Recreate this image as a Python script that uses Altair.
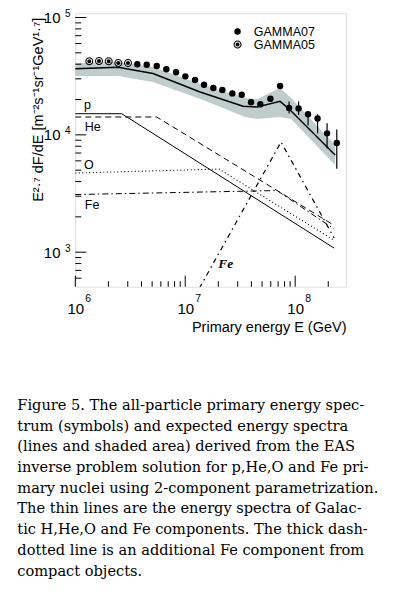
import altair as alt
import pandas as pd

# ---------------- data ----------------
g05_energy = [1.341e6, 1.643e6, 2.013e6, 2.462e6, 3.017e6]
g05_flux = [42350, 42600, 42350, 40960, 40960]

g07_energy = [3.665e6, 4.463e6, 5.505e6, 6.730e6, 8.247e6, 1.002e7, 1.228e7,
              1.483e7, 1.802e7, 2.176e7, 2.683e7, 3.267e7, 3.970e7, 4.825e7,
              5.950e7, 7.289e7, 8.801e7, 1.074e8, 1.310e8, 1.599e8, 1.951e8,
              2.391e8]
g07_flux = [39930, 39620, 38620, 36190, 34120, 31500, 29340,
            26750, 25070, 24100, 22550, 21990, 18940, 18200,
            20320, 26070, 16930, 16800, 14960, 13780, 10300,
            8520]

err_energy = [8.801e7, 1.074e8, 1.310e8, 1.599e8, 1.951e8, 2.391e8]
err_low = [15190, 14760, 12040, 10290, 7670, 5140]
err_high = [19240, 19240, 15850, 14950, 12530, 11130]

fit_energy = [1e6, 2.446e6, 5.093e6, 1.364e7, 3.357e7, 4.501e7, 7.289e7, 8.801e7, 2.308e8]
fit_flux = [36620, 37640, 33330, 23180, 17510, 17270, 19310, 16600, 6730]

band_energy = [1e6, 2.446e6, 5.093e6, 1.452e7, 3.501e7, 4.501e7, 7.289e7, 9.178e7, 2.308e8]
band_high = [40960, 41760, 37860, 26580, 20600, 20210, 25090, 20600, 8190]
band_low = [31730, 31730, 28200, 19810, 14190, 13640, 14190, 13640, 5530]

p_energy = [1e6, 2.644e6, 2.259e8]
p_flux = [15140, 15140, 1084]
he_energy = [1e6, 5.505e6, 2.259e8]
he_flux = [14190, 14190, 1693]
o_energy = [1e6, 2.030e7, 2.259e8]
o_flux = [4726, 5112, 1262]
fe_energy = [1e6, 6.845e7, 2.259e8]
fe_flux = [3099, 3352, 1574]
fex_energy = [1e7, 7.441e7, 2.259e8]
fex_flux = [300, 8688, 1320]

label_text = ["p", "He", "O", "Fe"]
label_energy = [1.2e6, 1.22e6, 1.2e6, 1.22e6]
label_flux = [16500, 10780, 5112, 2318]
fex_label = ["Fe"]
fex_label_energy = [2.001e7]
fex_label_flux = [732]

series_names = ["GAMMA07", "GAMMA05"]

x_major = [1e6, 1e7, 1e8]
x_exponent = ["6", "7", "8"]
x_minor = [2e6, 3e6, 4e6, 5e6, 6e6, 7e6, 8e6, 9e6,
           2e7, 3e7, 4e7, 5e7, 6e7, 7e7, 8e7, 9e7, 2e8]
y_major = [1e3, 1e4, 1e5]
y_exponent = ["3", "4", "5"]
y_minor = [6e2, 7e2, 8e2, 9e2, 2e3, 3e3, 4e3, 5e3, 6e3, 7e3, 8e3, 9e3,
           2e4, 3e4, 4e4, 5e4, 6e4, 7e4, 8e4, 9e4]

caption_lines = [
    "Figure 5.  The all-particle primary energy spec-",
    "trum (symbols) and expected energy spectra",
    "(lines and shaded area) derived from the EAS",
    "inverse problem solution for p,He,O and Fe pri-",
    "mary nuclei using 2-component parametrization.",
    "The thin lines are the energy spectra of Galac-",
    "tic H,He,O and Fe components. The thick dash-",
    "dotted line is an additional Fe component from",
    "compact objects.",
]

y_title = "E²·⁷ dF/dE  [m⁻²s⁻¹sr⁻¹GeV¹·⁷]"
x_title = "Primary energy E (GeV)"

# ---------------- chart ----------------
W, H = 270.7, 273.4
TOP = 5.3
SANS = "Liberation Sans"
SERIF = "DejaVu Serif"

xs = alt.Scale(type="log", domain=[1e6, 2.9e8], nice=False)
ys = alt.Scale(type="log", domain=[508, 1.086e5], nice=False)

xaxis = alt.Axis(values=x_major, labelExpr="'10'", ticks=False, tickSize=0,
                 domain=False, grid=False, labelFont=SANS, labelFontSize=15,
                 labelColor="black", labelAlign="center",
                 labelBaseline="alphabetic", labelPadding=26.7, labelFlush=False,
                 labelOverlap=False, title=x_title, titleFont=SANS, titleFontSize=14.5,
                 titleFontWeight="normal", titleColor="black", titleX=W, titleY=45,
                 titleAlign="right", titleBaseline="alphabetic", titleAngle=0)
yaxis = alt.Axis(values=y_major, labelExpr="'10'", ticks=False, tickSize=0,
                 domain=False, grid=False, labelFont=SANS, labelFontSize=15,
                 labelColor="black", labelPadding=15.3, labelBaseline="middle",
                 labelFlush=False, labelOverlap=False, title=y_title, titleFont=SANS,
                 titleFontSize=14.5, titleFontWeight="normal", titleColor="black",
                 titleX=-33, titleY=96, titleAngle=270, titleAlign="center",
                 titleBaseline="alphabetic")


def X(field="E"):
    return alt.X(field, type="quantitative", scale=xs, axis=xaxis)


def Y(field="F"):
    return alt.Y(field, type="quantitative", scale=ys, axis=yaxis)


band_df = pd.DataFrame({"E": band_energy, "F": band_high, "F2": band_low})
band = alt.Chart(band_df).mark_area(color="#bfcecc", opacity=1).encode(
    x=X(), y=Y(), y2="F2")

fit = alt.Chart(pd.DataFrame({"E": fit_energy, "F": fit_flux})).mark_line(
    color="black", strokeWidth=1.5).encode(x=X(), y=Y())


def thin(en, fl, dash, width=1.0, clip=False):
    kw = dict(color="black", strokeWidth=width, clip=clip)
    if dash:
        kw["strokeDash"] = dash
    return alt.Chart(pd.DataFrame({"E": en, "F": fl})).mark_line(**kw).encode(x=X(), y=Y())


p_line = thin(p_energy, p_flux, None, 1.0)
he_line = thin(he_energy, he_flux, [6, 4], 1.0)
o_line = thin(o_energy, o_flux, [1, 2.5], 1.1)
fe_line = thin(fe_energy, fe_flux, [6, 3, 1.5, 3], 1.0)
fex_line = thin(fex_energy, fex_flux, [5, 4, 1.5, 4], 1.2, clip=True)

xt_major = alt.Chart(pd.DataFrame({"E": x_major})).mark_rule(color="black", strokeWidth=1).encode(
    x=X(), y=alt.value(H), y2=alt.value(H - 11))
xt_minor = alt.Chart(pd.DataFrame({"E": x_minor})).mark_rule(color="black", strokeWidth=1).encode(
    x=X(), y=alt.value(H), y2=alt.value(H - 5.5))
yt_major = alt.Chart(pd.DataFrame({"F": y_major})).mark_rule(color="black", strokeWidth=1).encode(
    y=Y(), x=alt.value(0), x2=alt.value(11))
yt_minor = alt.Chart(pd.DataFrame({"F": y_minor})).mark_rule(color="black", strokeWidth=1).encode(
    y=Y(), x=alt.value(0), x2=alt.value(6))

x_exp = alt.Chart(pd.DataFrame({"E": x_major, "t": x_exponent})).mark_text(
    font=SANS, fontSize=10.5, color="black", align="left", baseline="middle", dx=10).encode(
    x=X(), y=alt.value(H + 12.3), text="t")
y_exp = alt.Chart(pd.DataFrame({"F": y_major, "t": y_exponent})).mark_text(
    font=SANS, fontSize=10, color="black", align="left", baseline="middle", dy=-3.5).encode(
    y=Y(), x=alt.value(-10.3), text="t")

err = alt.Chart(pd.DataFrame({"E": err_energy, "F": err_low, "F2": err_high})).mark_rule(
    color="black", strokeWidth=1.2).encode(x=X(), y=Y(), y2="F2")

# circled dot symbol: outer ring + centre dot (non-zero winding)
RING = ("M1.25,0A1.25,1.25,0,1,1,-1.25,0A1.25,1.25,0,1,1,1.25,0Z"
        "M0.92,0A0.92,0.92,0,1,0,-0.92,0A0.92,0.92,0,1,0,0.92,0Z"
        "M0.62,0A0.62,0.62,0,1,1,-0.62,0A0.62,0.62,0,1,1,0.62,0Z")

pts_df = pd.DataFrame({
    "E": g07_energy + g05_energy,
    "F": g07_flux + g05_flux,
    "s": [series_names[0]] * len(g07_energy) + [series_names[1]] * len(g05_energy),
})
pts = alt.Chart(pts_df).mark_point(filled=True, color="black", opacity=1, strokeWidth=0,
                                   size=41).encode(
    x=X(), y=Y(),
    shape=alt.Shape("s:N", scale=alt.Scale(domain=series_names, range=["circle", RING]),
                    legend=alt.Legend(title=None, orient="none", legendX=156, legendY=12,
                                      labelFont=SANS, labelFontSize=12.5, labelColor="black",
                                      symbolSize=41, symbolFillColor="black",
                                      symbolStrokeWidth=0, labelOffset=10, rowPadding=0,
                                      padding=0)),
)

labels = alt.Chart(pd.DataFrame({"E": label_energy, "F": label_flux, "t": label_text})).mark_text(
    font=SANS, fontSize=12.5, color="black", align="left", baseline="alphabetic").encode(
    x=X(), y=Y(), text="t")
fex_lab = alt.Chart(pd.DataFrame({"E": fex_label_energy, "F": fex_label_flux, "t": fex_label})).mark_text(
    font="Liberation Serif", fontSize=13.5, fontStyle="italic", fontWeight="bold", color="black",
    align="left", baseline="alphabetic").encode(x=X(), y=Y(), text="t")

caption = alt.Chart(alt.Data(values=[{}])).mark_text(
    text=caption_lines, font=SERIF, fontSize=14.6, lineHeight=20.7, color="black",
    align="left", baseline="alphabetic").encode(x=alt.value(-58), y=alt.value(396.7))

chart = alt.layer(
    band, fit, p_line, he_line, o_line, fe_line, fex_line,
    xt_major, xt_minor, yt_major, yt_minor, x_exp, y_exp, err, pts, labels, fex_lab, caption,
).properties(
    width=W, height=H,
    autosize=alt.AutoSizeParams(type="none"),
    padding={"left": 67.3, "top": TOP, "right": 44, "bottom": 298},
).configure_view(stroke="black", strokeWidth=1.5).configure(background="white")

chart.save("out.html", embed_options={"renderer": "svg", "actions": False})
